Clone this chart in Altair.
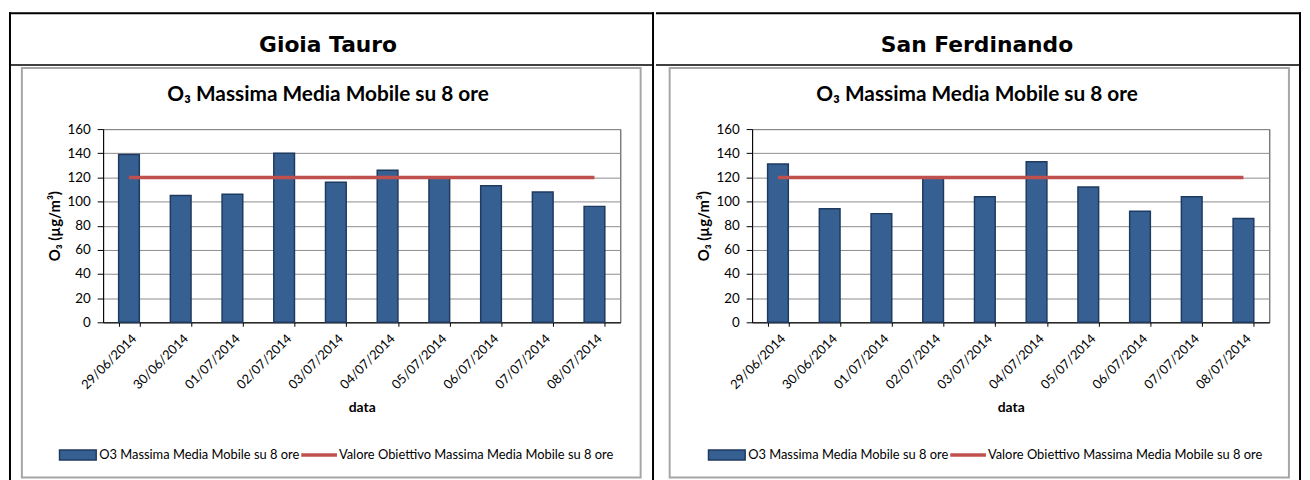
import altair as alt
import pandas as pd

# ---------------- data ----------------
stazioni = ["Gioia Tauro", "San Ferdinando"]
date = ["29/06/2014", "30/06/2014", "01/07/2014", "02/07/2014", "03/07/2014",
        "04/07/2014", "05/07/2014", "06/07/2014", "07/07/2014", "08/07/2014"]
o3_gioia_tauro = [139, 105, 106, 140, 116, 126, 120, 113, 108, 96]
o3_san_ferdinando = [131, 94, 90, 120, 104, 133, 112, 92, 104, 86]
valore_obiettivo = [120, 120, 120, 120, 120, 120, 120, 120, 120, 120]
titolo = "O\u2083 Massima Media Mobile su 8 ore"
serie = ["O3 Massima Media Mobile su 8 ore",
         "Valore Obiettivo Massima Media Mobile su 8 ore"]
asse_x = "data"
asse_y = "O\u2083 (\u00b5g/m\u00b3)"
y_ticks = [0, 20, 40, 60, 80, 100, 120, 140, 160]

# ---------------- style ----------------
W, H = 522, 195
BLUE = "#376092"
NAVY = "#1f3a60"
RED = "#c0504d"
FRAME = "#a6a6a6"
FONT = "Lato"
HFONT = "DejaVu Sans"

one = pd.DataFrame({"k": [0]})


def rect(x, x2, y, y2, **kw):
    return alt.Chart(one).mark_rect(**kw).encode(
        x=alt.value(x), x2=alt.value(x2), y=alt.value(y), y2=alt.value(y2))


def rule_h(x, x2, y, **kw):
    return alt.Chart(one).mark_rule(**kw).encode(
        x=alt.value(x), x2=alt.value(x2), y=alt.value(y))


def text(t, x, y, **kw):
    return alt.Chart(one).mark_text(text=t, **kw).encode(
        x=alt.value(x), y=alt.value(y))


def panel(nome, valori, left_side):
    df = pd.DataFrame({"data": date, "o3": valori, "obiettivo": valore_obiettivo})
    xax = alt.Axis(title=asse_x, labelAngle=315, labelAlign="right",
                   labelBaseline="middle", labelPadding=10, labelOffset=5,
                   labelFontSize=13, labelFont=FONT, labelColor="black",
                   titleFont=FONT, titleFontSize=14, titleFontWeight="bold",
                   titleX=W / 2, titleY=86, titleBaseline="middle",
                   titleColor="black",
                   tickBand="extent", tickSize=4, tickColor="black",
                   domainColor="black", grid=False)
    yax = alt.Axis(title=asse_y, values=y_ticks, grid=True, gridColor="#8c8c8c",
                   labelFont=FONT, labelFontSize=13.5, labelColor="black",
                   labelPadding=7, tickSize=6, tickColor="black",
                   domainColor="black",
                   titleFont=FONT, titleFontSize=15, titleFontWeight="bold",
                   titleColor="black", titleAngle=270, titleX=-49,
                   titleY=H / 2, titleAlign="center", titleBaseline="middle")
    xenc = alt.X("data:N", sort=date,
                 scale=alt.Scale(paddingInner=0.6, paddingOuter=0.3), axis=xax)
    yscale = alt.Scale(domain=[0, 160])

    bars = alt.Chart(df).mark_bar(fill=BLUE, stroke=NAVY, strokeWidth=1.5).encode(
        x=xenc, y=alt.Y("o3:Q", scale=yscale, axis=yax))
    line = alt.Chart(df).mark_line(color=RED, strokeWidth=3.5).encode(
        x=xenc, y=alt.Y("obiettivo:Q", scale=yscale, axis=yax))

    if left_side:
        bx0, bx1 = -95, 556
        frame = rect(-82, 542.5, -61.7, 351.7, fill="white", fillOpacity=0,
                     stroke=FRAME, strokeWidth=2)
        vlines = [rect(-95, -93, -118, 357, fill="black"),
                  rect(554, 556, -118, 357, fill="black")]
    else:
        bx0, bx1 = -97, 554
        frame = rect(-83.2, 541.8, -61.7, 351.7, fill="white", fillOpacity=0,
                     stroke=FRAME, strokeWidth=2)
        vlines = [rect(552, 554, -118, 357, fill="black")]
    sw0, sw1 = -44, -7

    bg = rect(bx0, bx1, -119, 357, fill="white", opacity=0)
    top = rect(bx0, bx1, -118, -116, fill="black")
    hdr = rect(bx0, bx1, -65.5, -64, fill="black")

    head = text(nome, 227, -85, font=HFONT, fontSize=22, fontWeight="bold",
                align="center", baseline="middle", color="black")
    tit = text(titolo, 227, -34, font=FONT, fontSize=21, fontWeight="bold",
               align="center", baseline="middle", color="black")

    ly = 329
    sw = rect(sw0, sw1, ly - 5, ly + 5, fill=BLUE, stroke=NAVY, strokeWidth=1.5)
    lab1 = text(serie[0], sw1 + 3, ly, font=FONT, fontSize=13, align="left",
                baseline="middle", color="black")
    leg_line = rule_h(200, 236, ly, color=RED, strokeWidth=3.5)
    lab2 = text(serie[1], 238, ly, font=FONT, fontSize=13, align="left",
                baseline="middle", color="black")

    layers = [bg, top, hdr] + vlines + [frame, head, tit, bars, line,
                                        sw, lab1, leg_line, lab2]
    return alt.layer(*layers).properties(width=W, height=H)


left = panel(stazioni[0], o3_gioia_tauro, True)
right = panel(stazioni[1], o3_san_ferdinando, False)

chart = alt.hconcat(left, right, spacing=0).properties(
    padding=0, background="white"
).configure_view(stroke="#404040", strokeWidth=1)

chart.save("out.html", embed_options={"renderer": "svg", "actions": False})
